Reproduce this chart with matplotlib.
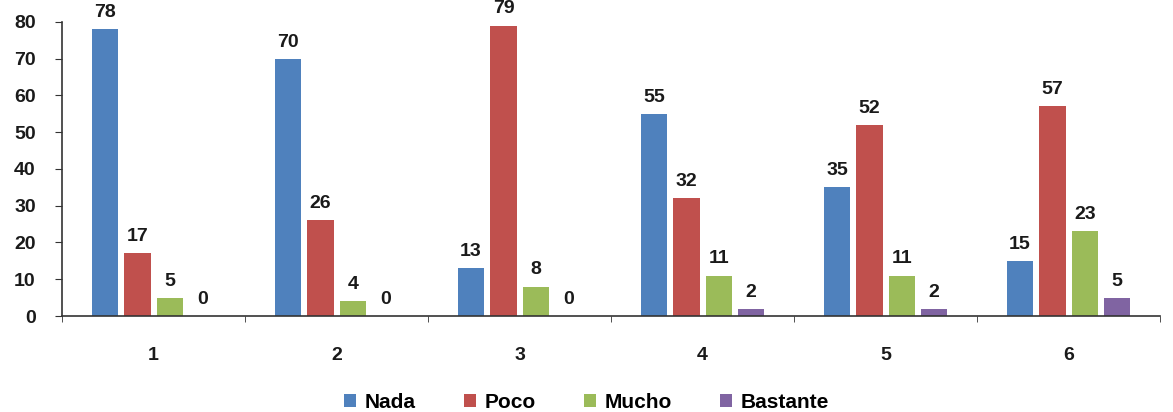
import matplotlib.pyplot as plt
import numpy as np

plt.rcParams['font.family'] = ['Liberation Sans', 'DejaVu Sans']
plt.rcParams['font.weight'] = 'bold'

groups = ['1', '2', '3', '4', '5', '6']
series = ['Nada', 'Poco', 'Mucho', 'Bastante']
nada = [78, 70, 13, 55, 35, 15]
poco = [17, 26, 79, 32, 52, 57]
mucho = [5, 4, 8, 11, 11, 23]
bastante = [0, 0, 0, 2, 2, 5]
colors = ['#4F81BD', '#C0504D', '#9BBB59', '#8064A2']

fig = plt.figure(figsize=(11.73, 4.12), dpi=100)
ax = fig.add_axes([0.053, 0.233, 0.936, 0.714])

x = np.arange(len(groups))
width = 0.145
step = 0.177
for i, (name, vals) in enumerate(zip(series, [nada, poco, mucho, bastante])):
    pos = x + (i - 1.5) * step
    bars = ax.bar(pos, vals, width, color=colors[i], label=name, zorder=2)
    for b, v in zip(bars, vals):
        ax.text(b.get_x() + b.get_width() / 2, v + 2.2, str(v),
                ha='center', va='bottom', fontsize=14, fontweight='bold',
                color='#1a1a1a', clip_on=False)

ax.set_xlim(-0.5, len(groups) - 0.5)
ax.set_ylim(0, 80)
ax.set_yticks(range(0, 81, 10))
ax.set_xticks(x)
ax.set_xticklabels(groups)
ax.set_xticks(np.arange(-0.5, len(groups)), minor=True)
ax.tick_params(axis='x', which='major', length=0, pad=22, labelsize=14)
ax.tick_params(axis='x', which='minor', length=4, direction='out', color='#333333')
ax.tick_params(axis='y', length=5, direction='out', labelsize=14, pad=14, color='#333333')
for lab in ax.get_xticklabels() + ax.get_yticklabels():
    lab.set_fontweight('bold')
    lab.set_color('#1a1a1a')

for s in ['top', 'right']:
    ax.spines[s].set_visible(False)
for s in ['left', 'bottom']:
    ax.spines[s].set_color('#333333')
    ax.spines[s].set_linewidth(1.2)

fig.legend(loc='lower center', bbox_to_anchor=(0.5, -0.045), ncol=4,
           frameon=False, handlelength=0.6, handleheight=0.6,
           handletextpad=0.4, columnspacing=2.3,
           prop={'size': 15, 'weight': 'bold'})

fig.savefig('out.png', dpi=100)
